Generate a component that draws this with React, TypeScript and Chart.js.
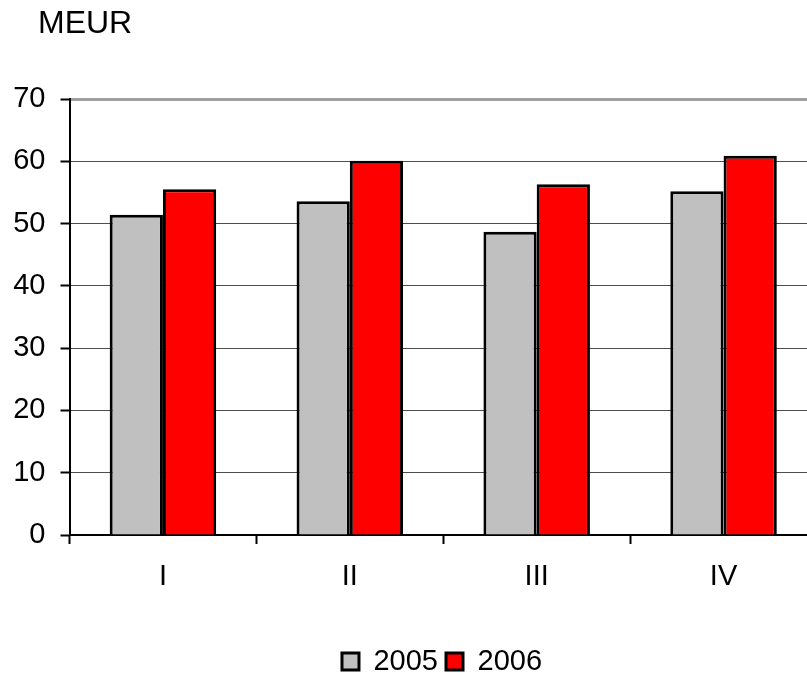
import React, { useEffect, useRef } from "react";
import { Chart, registerables } from "chart.js";

Chart.register(...registerables);

const categories = ["I", "II", "III", "IV"];
const seriesNames = ["2005", "2006"];
const values2005 = [51.4, 53.6, 48.7, 55.2];
const values2006 = [55.5, 60.1, 56.3, 60.9];
const yMin = 0;
const yMax = 70;
const yStep = 10;
const unitLabel = "MEUR";

const FONT = '"Liberation Sans", Arial, sans-serif';

const unitPlugin = {
  id: "unitLabel",
  afterDraw(chart: any) {
    const ctx = chart.ctx;
    ctx.save();
    ctx.font = `32px ${FONT}`;
    ctx.fillStyle = "#000";
    ctx.textBaseline = "alphabetic";
    ctx.textAlign = "left";
    ctx.fillText(unitLabel, 38, 33);
    ctx.restore();
  },
};

export default function App() {
  const ref = useRef<HTMLCanvasElement | null>(null);

  useEffect(() => {
    if (!ref.current) return;
    const chart = new Chart(ref.current, {
      type: "bar",
      data: {
        labels: categories,
        datasets: [
          {
            label: seriesNames[0],
            data: values2005,
            backgroundColor: "#C0C0C0",
            borderColor: "#000",
            borderWidth: 3,
            categoryPercentage: 0.57,
            barPercentage: 1.0,
          },
          {
            label: seriesNames[1],
            data: values2006,
            backgroundColor: "#FF0000",
            borderColor: "#000",
            borderWidth: 3,
            categoryPercentage: 0.57,
            barPercentage: 1.0,
          },
        ],
      },
      options: {
        responsive: false,
        animation: false,
        devicePixelRatio: 1,
        layout: { padding: { left: 13, right: 13, top: 99, bottom: 0 } },
        plugins: {
          legend: {
            display: true,
            position: "bottom",
            labels: {
              boxWidth: 17,
              boxHeight: 17,
              padding: 8,
              color: "#000",
              font: { family: FONT, size: 29 },
            },
          },
          title: { display: false },
          tooltip: { enabled: false },
        },
        scales: {
          x: {
            offset: true,
            grid: {
              offset: true,
              drawOnChartArea: false,
              drawTicks: true,
              tickLength: 9,
              tickColor: "#000",
              tickWidth: 2,
            },
            border: { display: true, color: "#000", width: 2 },
            ticks: {
              color: "#000",
              padding: 16,
              font: { family: FONT, size: 29 },
              maxRotation: 0,
            },
            afterFit: (s: any) => {
              s.height = 104;
            },
          },
          y: {
            min: yMin,
            max: yMax,
            ticks: {
              stepSize: yStep,
              color: "#000",
              padding: 15,
              font: { family: FONT, size: 29 },
            },
            grid: {
              color: (c: any) =>
                c.tick && c.tick.value === yMax
                  ? "#a0a0a0"
                  : c.tick && c.tick.value === yMin
                  ? "#000"
                  : "#4d4d4d",
              lineWidth: (c: any) => (c.tick && c.tick.value === yMax ? 3 : 1),
              tickLength: 9,
              tickColor: "#000",
              tickWidth: 2,
            },
            border: { display: true, color: "#000", width: 2 },
            afterFit: (s: any) => {
              s.width = 56.5;
            },
          },
          y2: {
            type: "linear",
            position: "right",
            display: true,
            grid: { display: false },
            border: { display: false },
            ticks: { display: false },
            afterFit: (s: any) => {
              s.width = 54;
            },
          },
        },
      },
      plugins: [unitPlugin],
    } as any);
    return () => chart.destroy();
  }, []);

  return (
    <div style={{ position: "fixed", left: 0, top: 0, width: 884, height: 686, background: "#fff" }}>
      <canvas ref={ref} width={884} height={686} style={{ width: 884, height: 686, display: "block" }} />
    </div>
  );
}
